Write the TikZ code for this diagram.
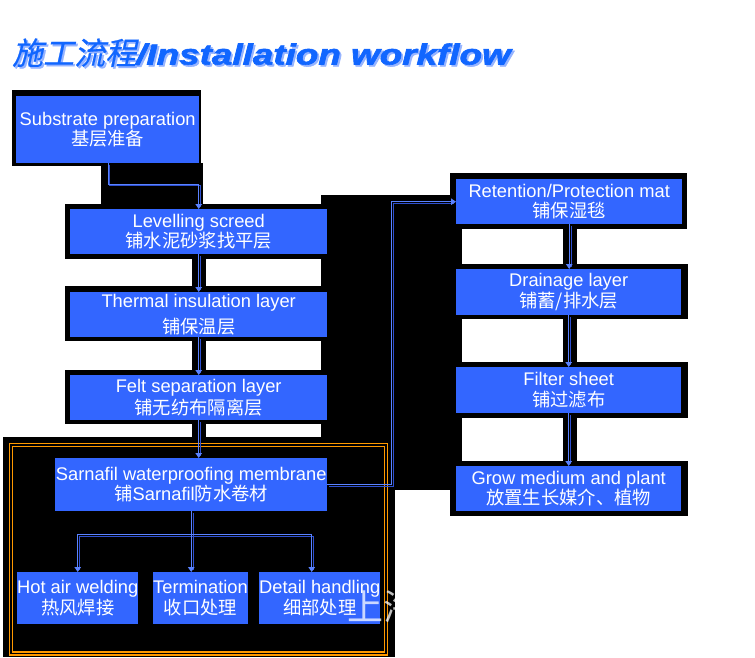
\documentclass[tikz,border=0pt]{standalone}
\usepackage{fontspec}
\usepackage{graphicx}
\setmainfont{Liberation Sans}
\newfontfamily\titlelat{Liberation Sans}[BoldItalicFeatures={FakeBold=2}]
\newfontfamily\cjk{Noto Sans CJK SC}
\newfontfamily\cjkslant{Noto Sans CJK SC}[FakeSlant=0.22,FakeBold=0.6]
\usetikzlibrary{arrows.meta,calc}
\definecolor{boxblue}{RGB}{51,102,255}
\definecolor{titleblue}{RGB}{17,102,255}
\definecolor{titleshadow}{RGB}{150,180,255}
\definecolor{connlight}{RGB}{90,130,255}
\definecolor{conndark}{RGB}{46,80,208}
\definecolor{framecol}{RGB}{255,153,0}
\tikzset{
  box/.style={fill=boxblue, text=white, inner sep=0pt, align=center, anchor=north west,
    font=\fontsize{18.3}{20.5}\selectfont},
  connmain/.style={draw=connlight, line width=1pt, -{Triangle[length=5pt,width=6.5pt]}},
  connplain/.style={draw=connlight, line width=1pt},
  connshadow/.style={draw=conndark, line width=1pt, transform canvas={xshift=1.8pt,yshift=-1.8pt}},
  blk/.style={fill=black},
  framestyle/.style={draw=framecol, line width=1.1pt}
}
\newcommand\arrowconn[1]{\draw[connshadow, shorten >=4pt] #1; \draw[connmain] #1;}
\newcommand\plainconn[1]{\draw[connshadow] #1; \draw[connplain] #1;}
\newcommand\titletext{{\cjkslant\fontsize{31}{31}\selectfont 施工流程}{\titlelat\fontsize{29}{29}\selectfont\bfseries\itshape\scalebox{1.27}[1]{/Installation workflow}}}
\begin{document}
\begin{tikzpicture}[x=1pt,y=-1pt]
\useasboundingbox (0,0) rectangle (755,657);
\fill[white] (0,0) rectangle (755,657);

% title (with light shadow)
\node[anchor=base west, inner sep=0, text=titleshadow] (titleshadow) at (13.8,66.3) {\titletext};
\node[anchor=base west, inner sep=0, text=titleblue] (title) at (12,64.5) {\titletext};

% black backgrounds
\fill[blk] (12,90) rectangle (201,166);
\fill[blk] (101,163) rectangle (203,206);
\fill[blk] (65,204) rectangle (340,259);
\fill[blk] (192,254) rectangle (206,292);
\fill[blk] (65,286) rectangle (340,341);
\fill[blk] (192,337) rectangle (206,375);
\fill[blk] (65,370) rectangle (340,424);
\fill[blk] (192,420) rectangle (206,440);
\fill[blk] (321,195) rectangle (462,490);
\fill[blk] (3,437) rectangle (395,657);
\fill[blk] (450,173) rectangle (687,229);
\fill[blk] (563,224) rectangle (577,269);
\fill[blk] (450,264) rectangle (688,319);
\fill[blk] (563,315) rectangle (577,367);
\fill[blk] (450,362) rectangle (688,418);
\fill[blk] (563,413) rectangle (577,466);
\fill[blk] (450,461) rectangle (688,516);

% orange double frame
\draw[framestyle] (9.5,443.5) rectangle (387.5,655);
\draw[framestyle] (12.5,446.5) rectangle (384.5,652);

% left column boxes
\node[box, minimum width=183pt, minimum height=67pt] (s1) at (16,96) {Substrate preparation\\{\cjk 基层准备}};
\node[box, minimum width=257pt, minimum height=45pt] (s2) at (70,209) {Levelling screed\\{\cjk 铺水泥砂浆找平层}};
\node[box, minimum width=257pt, minimum height=45pt] (s3) at (70,292) {Thermal insulation layer\\[6pt]{\cjk 铺保温层}};
\node[box, minimum width=257pt, minimum height=45pt] (s4) at (70,375) {Felt separation layer\\[2pt]{\cjk 铺无纺布隔离层}};
\node[box, minimum width=272pt, minimum height=53pt] (s5) at (55,458) {Sarnafil waterproofing membrane\\{\cjk 铺}Sarnafil{\cjk 防水卷材}};
\node[box, minimum width=121pt, minimum height=52pt] (c1) at (17,572) {Hot air welding\\{\cjk 热风焊接}};
\node[box, minimum width=91pt, minimum height=52pt] (c2) at (153,572) {Termination\\{\cjk 收口处理}};
\node[box, minimum width=121pt, minimum height=52pt] (c3) at (259,572) {Detail handling\\{\cjk 细部处理}};

% right column boxes
\node[box, minimum width=226pt, minimum height=45pt] (r1) at (456,179) {Retention/Protection mat\\{\cjk 铺保湿毯}};
\node[box, minimum width=225pt, minimum height=46pt] (r2) at (456,269) {Drainage layer\\{\cjk 铺蓄/排水层}};
\node[box, minimum width=225pt, minimum height=46pt] (r3) at (456,367) {Filter sheet\\{\cjk 铺过滤布}};
\node[box, minimum width=225pt, minimum height=45pt] (r4) at (456,466) {Grow medium and plant\\{\cjk 放置生长媒介、植物}};

% connectors
\arrowconn{([xshift=92pt]s1.south west) |- ([yshift=25pt]s2.north) -- (s2.north)}
\arrowconn{(s2.south) -- (s3.north)}
\arrowconn{(s3.south) -- (s4.north)}
\arrowconn{(s4.south) -- (s4.south |- s5.north)}
\arrowconn{(s5.east) -- ++(64,0) |- (r1.west)}
\arrowconn{(r1.south) -- (r1.south |- r2.north)}
\arrowconn{(r2.south) -- (r3.north)}
\arrowconn{(r3.south) -- (r4.north)}
\coordinate (j) at ([yshift=-23pt]s5.south);
\plainconn{(s5.south) -- (j)}
\plainconn{(c1.north |- j) -- ([xshift=-8pt]c3.north |- j)}
\arrowconn{(c1.north |- j) -- (c1.north)}
\arrowconn{(j) -- (j |- c2.north)}
\arrowconn{([xshift=-8pt]c3.north |- j) -- ([xshift=-8pt]c3.north)}

% watermark
\node[anchor=west, inner sep=0, text=white, text opacity=0.75, font=\cjk\fontsize{36}{36}\selectfont] (wm) at (347,607) {上海};
\end{tikzpicture}
\end{document}
